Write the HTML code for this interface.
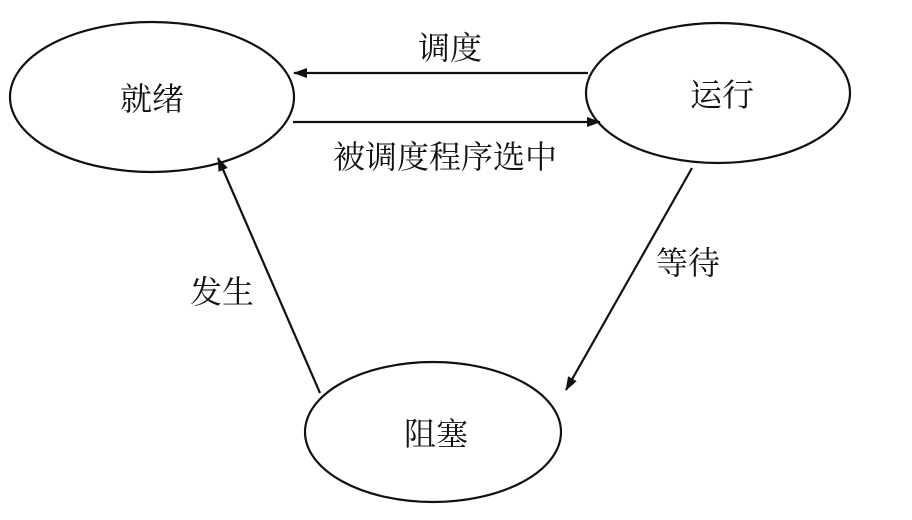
<!DOCTYPE html>
<html><head><meta charset="utf-8"><style>
html,body{margin:0;padding:0;background:#fff;}
svg{display:block}
text{font-family:"Liberation Serif","Noto Serif CJK SC",serif;fill:#111;font-size:32px;text-anchor:middle;dominant-baseline:central}
</style></head><body>
<svg width="912" height="520" viewBox="0 0 912 520" xmlns="http://www.w3.org/2000/svg">
<defs><marker id="a" markerWidth="14" markerHeight="10" refX="13" refY="5" orient="auto" markerUnits="userSpaceOnUse"><path d="M0,0 L14,5 L0,10 Z" fill="#111"/></marker></defs>
<g fill="none" stroke="#111" stroke-width="2.2">
<ellipse cx="152" cy="97" rx="142" ry="75"/>
<ellipse cx="718" cy="93" rx="132" ry="70"/>
<ellipse cx="433" cy="432" rx="128" ry="70"/>
<line x1="588" y1="73" x2="294" y2="73" marker-end="url(#a)"/>
<line x1="293" y1="122" x2="600" y2="122" marker-end="url(#a)"/>
<line x1="692" y1="168" x2="566" y2="390" marker-end="url(#a)"/>
<line x1="320" y1="393" x2="218" y2="158" marker-end="url(#a)"/>
</g>
<text x="152" y="99">就绪</text>
<text x="722" y="95">运行</text>
<text x="436" y="434">阻塞</text>
<text x="450" y="48">调度</text>
<text x="445" y="157">被调度程序选中</text>
<text x="688" y="263">等待</text>
<text x="222" y="292">发生</text>
</svg>
</body></html>
